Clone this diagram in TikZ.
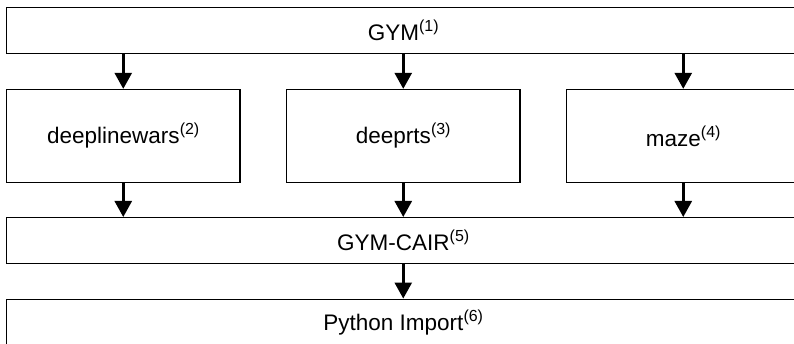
\documentclass[tikz,border=0pt]{standalone}
\usepackage{fontspec}
\setmainfont{Liberation Sans}
\usetikzlibrary{arrows.meta}
\newcommand{\supn}[1]{\raisebox{0.40em}{\fontsize{16}{17}\selectfont(#1)}}
\begin{document}
\begin{tikzpicture}[x=1pt,y=-1pt,
  box/.style={draw=black, line width=1.1pt, fill=white, inner sep=0pt, minimum width=233.5pt, font=\fontsize{22.5}{26}\selectfont},
  wide/.style={draw=black, line width=1.1pt, fill=white, inner sep=0pt, minimum width=793.5pt, minimum height=46.4pt, font=\fontsize{22.5}{26}\selectfont},
  arr/.style={line width=2.6pt, -{Triangle[width=17pt,length=16pt]}}]
\useasboundingbox (0,0) rectangle (794,344);
\clip (0,0) rectangle (794,344);
\fill[white] (0,0) rectangle (794,344);
\node[wide] (gym) at (403.25,30.5) {GYM\supn{1}};
\node[box, minimum height=93.2pt] (dlw) at (123.25,136) {deeplinewars\supn{2}};
\node[box, minimum height=93.2pt] (drts) at (403.25,136) {deeprts\supn{3}};
\node[box, minimum height=93.2pt] (maze) at (683.25,136) {maze\supn{4}};
\node[wide] (cair) at (403.25,240.75) {GYM-CAIR\supn{5}};
\node[wide] (py) at (403.25,322.3) {Python Import\supn{6}};
\foreach \n in {dlw,drts,maze} {
  \draw[arr] (gym.south -| \n.north) -- (\n.north);
  \draw[arr] (\n.south) -- (cair.north -| \n.south);
}
\draw[arr] (cair.south) -- (py.north);
\end{tikzpicture}
\end{document}
